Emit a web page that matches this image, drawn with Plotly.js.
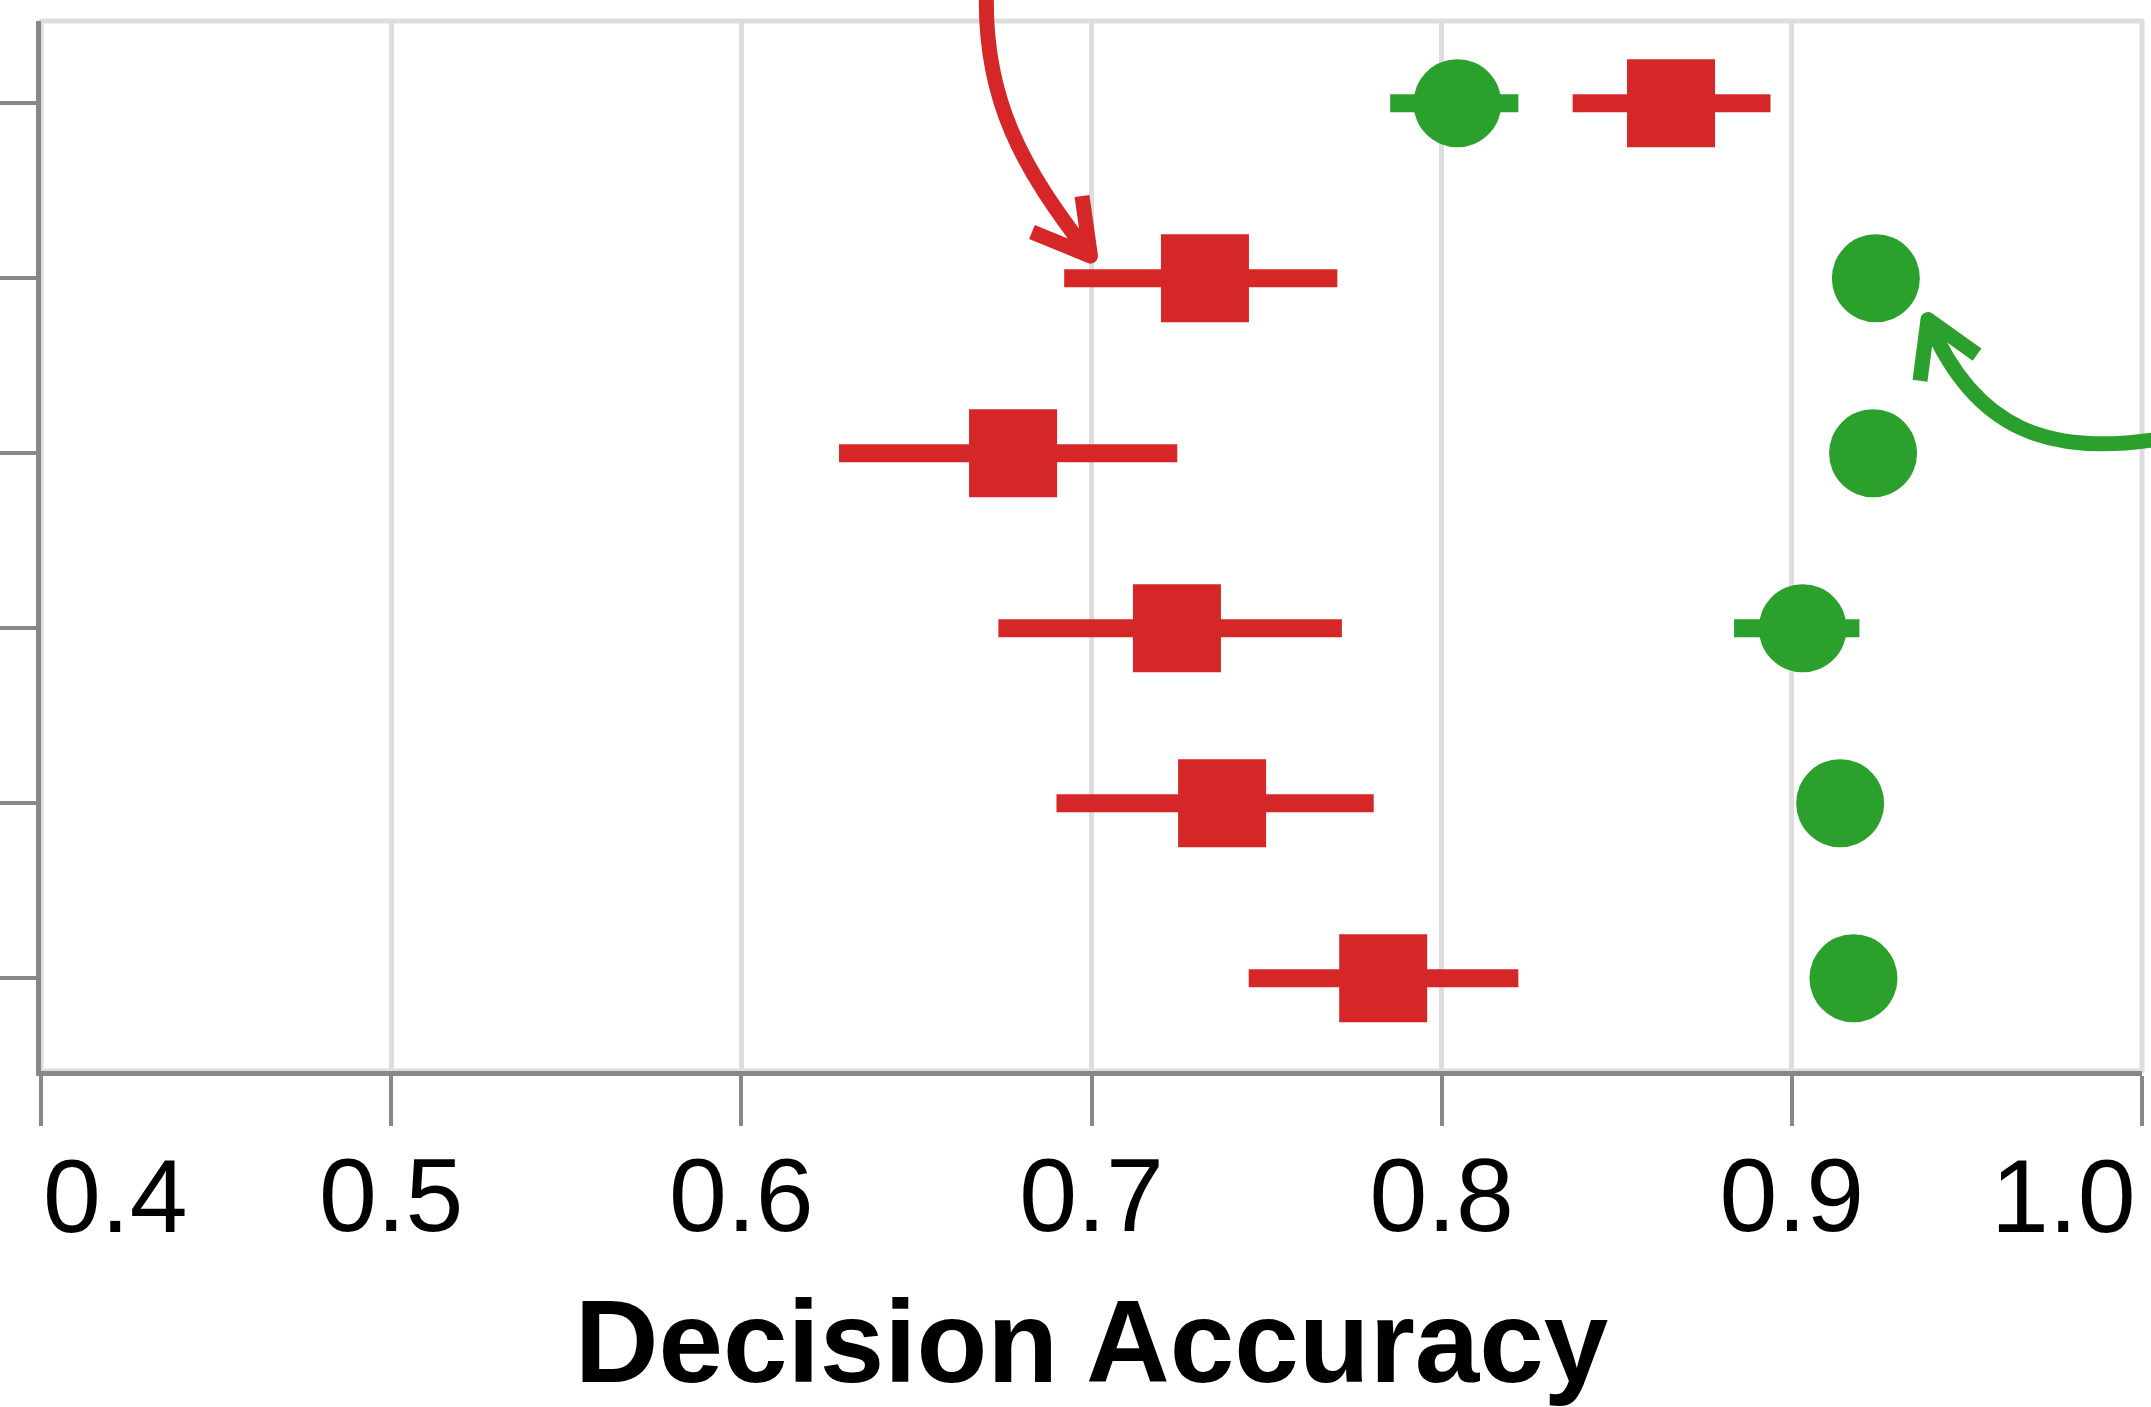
<!DOCTYPE html>
<html>
<head>
<meta charset="utf-8">
<script src="https://cdn.plot.ly/plotly-3.0.1.min.js"></script>
<style>
html, body { margin: 0; padding: 0; background: #fff; }
#chart { width: 2151px; height: 1407px; }
.shapelayer path { stroke-linejoin: round; }
</style>
</head>
<body>
<div id="chart"></div>
<script>
// ---- data ----
const rows = [1, 2, 3, 4, 5, 6];
const redValues = [0.8655, 0.7324, 0.6776, 0.7244, 0.7373, 0.7833];
const redPlus   = [0.0284, 0.0378, 0.0469, 0.0471, 0.0433, 0.0386];
const redMinus  = [0.0281, 0.0402, 0.0497, 0.0510, 0.0473, 0.0384];
const greenValues = [0.8045, 0.9240, 0.9232, 0.9031, 0.9138, 0.9176];
const greenPlus   = [0.0174, 0.0080, 0.0080, 0.0162, 0.0080, 0.0080];
const greenMinus  = [0.0192, 0.0080, 0.0080, 0.0196, 0.0080, 0.0080];
const xTickVals = [0.4, 0.5, 0.6, 0.7, 0.8, 0.9, 1.0];
const xTickText = ['0.4', '0.5', '0.6', '0.7', '0.8', '0.9', '1.0'];
const xTitle = 'Decision Accuracy';

// ---- layout geometry ----
const W = 2151, H = 1407;
const M = { l: 41, r: 9, t: 21, b: 336, pad: 0 };
const plotW = W - M.l - M.r, plotH = H - M.t - M.b;
const RED = '#d62728', GREEN = '#2ca02c';
const FONT = 'Liberation Sans, Arial, Helvetica, sans-serif';

// decorative arrow paths, given in page pixels, converted to paper units
function px2paper(p) { return [(p[0] - M.l) / plotW, (M.t + plotH - p[1]) / plotH]; }
function pyPaper(y) { return (M.t + plotH - y) / plotH; }
function buildPath(segs) {
  return segs.map(s => s[0] + s.slice(1).map(p => px2paper(p).map(v => v.toFixed(5)).join(',')).join(' ')).join(' ');
}
const redArrow = buildPath([
  ['M', [987, -20]], ['C', [980, 100], [1026, 172], [1088, 253]],
  ['M', [1082, 196]], ['L', [1090.5, 256]], ['L', [1032, 232]]
]);
const greenArrow = buildPath([
  ['M', [2165, 438]], ['C', [2050, 458], [1975, 430], [1929, 322]],
  ['M', [1920, 380.7]], ['L', [1928, 319.5]], ['L', [1977, 354.7]]
]);

const tickFont = { family: FONT, size: 104, color: '#000' };
const lastIdx = xTickText.length - 1;
// the end labels are drawn flush with the plot edges (as annotations below)
const midText = xTickText.map((t, i) => (i === 0 || i === lastIdx) ? '' : t);

const traces = [
  {
    type: 'scatter', mode: 'markers', x: redValues, y: rows,
    marker: { symbol: 'square', size: 88, color: RED, line: { width: 0 } },
    error_x: { type: 'data', symmetric: false, array: redPlus, arrayminus: redMinus,
               thickness: 18, width: 0, color: RED },
    hoverinfo: 'skip', cliponaxis: false
  },
  {
    type: 'scatter', mode: 'markers', x: greenValues, y: rows,
    marker: { symbol: 'circle', size: 88, color: GREEN, line: { width: 0 } },
    error_x: { type: 'data', symmetric: false, array: greenPlus, arrayminus: greenMinus,
               thickness: 18, width: 0, color: GREEN },
    hoverinfo: 'skip', cliponaxis: false
  }
];

const labelY = pyPaper(1196);

const layout = {
  width: W, height: H, margin: M,
  paper_bgcolor: '#fff', plot_bgcolor: '#fff', showlegend: false,
  xaxis: {
    range: [0.4, 1.0], tickvals: xTickVals, ticktext: midText,
    showgrid: true, gridcolor: '#ddd', gridwidth: 5, zeroline: false,
    showline: true, linecolor: '#888', linewidth: 5,
    ticks: 'outside', ticklen: 50, tickwidth: 4, tickcolor: '#888',
    tickfont: tickFont, ticklabelstandoff: -20, fixedrange: true,
    title: { text: xTitle, font: { family: FONT, size: 116, weight: 'bold', color: '#000' }, standoff: 95 }
  },
  yaxis: {
    range: [6.53, 0.53], tickvals: rows, showticklabels: false,
    showgrid: false, zeroline: false,
    showline: true, linecolor: '#888', linewidth: 5,
    ticks: 'outside', ticklen: 60, tickwidth: 4, tickcolor: '#888', fixedrange: true
  },
  annotations: [
    { xref: 'x', yref: 'paper', x: xTickVals[0], y: labelY, text: xTickText[0],
      xanchor: 'left', yanchor: 'middle', showarrow: false, font: tickFont, xshift: 0 },
    { xref: 'x', yref: 'paper', x: xTickVals[lastIdx], y: labelY, text: xTickText[lastIdx],
      xanchor: 'right', yanchor: 'middle', showarrow: false, font: tickFont, xshift: -4 }
  ],
  shapes: [
    { type: 'rect', xref: 'paper', yref: 'paper', x0: 0, x1: 1, y0: 0, y1: 1,
      line: { color: '#ddd', width: 5 }, fillcolor: 'rgba(0,0,0,0)', layer: 'below' },
    { type: 'path', xref: 'paper', yref: 'paper', path: redArrow, line: { color: RED, width: 15 } },
    { type: 'path', xref: 'paper', yref: 'paper', path: greenArrow, line: { color: GREEN, width: 15 } }
  ]
};

Plotly.newPlot('chart', traces, layout, { displayModeBar: false, staticPlot: true });
</script>
</body>
</html>
